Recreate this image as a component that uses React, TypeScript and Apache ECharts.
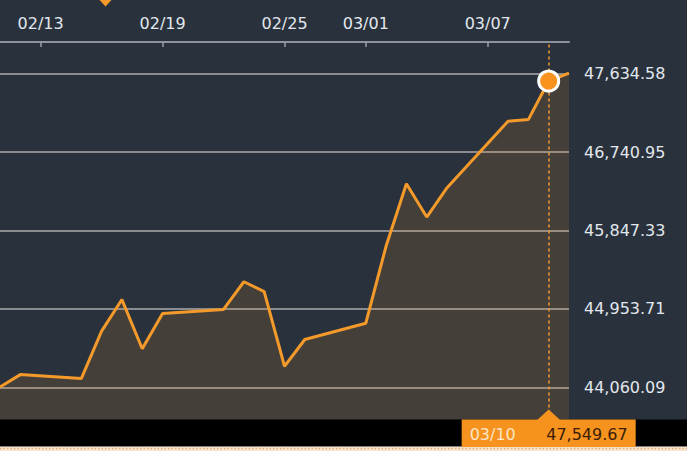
import React, { useEffect, useRef } from 'react';
import * as echarts from 'echarts';

// ---- data ----
const dates = [
  '2021-02-11', '2021-02-12', '2021-02-15', '2021-02-16', '2021-02-17', '2021-02-18', '2021-02-19',
  '2021-02-22', '2021-02-23', '2021-02-24', '2021-02-25', '2021-02-26',
  '2021-03-01', '2021-03-02', '2021-03-03', '2021-03-04', '2021-03-05',
  '2021-03-08', '2021-03-09', '2021-03-10', '2021-03-11',
];
const values = [
  44065, 44205, 44160, 44700, 45060, 44500, 44900,
  44948, 45263, 45150, 44300, 44605,
  44790, 45670, 46380, 46000, 46335,
  47092, 47110, 47549.67, 47640,
];
const xTickDates = ['2021-02-13', '2021-02-19', '2021-02-25', '2021-03-01', '2021-03-07'];
const yTickValues = [44060.09, 44953.71, 45847.33, 46740.95, 47634.58];
const highlightIndex = 19;
const xRange = ['2021-02-11', '2021-03-11'];
const yRange = [43693.5, 47994.3];

const FONT = 'DejaVu Sans';
const ORANGE = '#f39a2b';

function toTime(s: string): number {
  const [y, m, d] = s.split('-').map(Number);
  return new Date(y, m - 1, d).getTime();
}
function fmtDate(v: number): string {
  const d = new Date(v);
  const mm = String(d.getMonth() + 1).padStart(2, '0');
  const dd = String(d.getDate()).padStart(2, '0');
  return `${mm}/${dd}`;
}
function fmtNum(v: number): string {
  return Number(v).toLocaleString('en-US', { minimumFractionDigits: 2, maximumFractionDigits: 2 });
}

export default function App() {
  const ref = useRef<HTMLDivElement>(null);

  useEffect(() => {
    if (!ref.current) return;
    const chart = echarts.init(ref.current, undefined, { renderer: 'svg' });
    const xTicks = xTickDates.map(toTime);
    const seriesData = dates.map((d, i) => [toTime(d), values[i]]);
    const hiT = toTime(dates[highlightIndex]);
    const hiV = values[highlightIndex];

    chart.setOption({
      animation: false,
      backgroundColor: '#29323c',
      grid: { left: -1, right: 118, top: 42, bottom: 31.5, containLabel: false },
      xAxis: {
        type: 'value',
        position: 'top',
        min: toTime(xRange[0]),
        max: toTime(xRange[1]),
        axisLine: { show: true, lineStyle: { color: '#8c939b', width: 2 } },
        axisTick: {
          show: true, inside: true, length: 5, customValues: xTicks,
          lineStyle: { color: '#9aa0a6', width: 1.5 },
        },
        axisLabel: {
          customValues: xTicks, formatter: (v: number) => fmtDate(v),
          color: '#e2e7ee', fontSize: 16, fontFamily: FONT, margin: 11,
        },
        splitLine: { show: false },
      },
      yAxis: {
        type: 'value',
        position: 'right',
        min: yRange[0],
        max: yRange[1],
        axisLine: { show: false },
        axisTick: { show: false, customValues: yTickValues },
        axisLabel: {
          customValues: yTickValues, formatter: (v: number) => fmtNum(v),
          color: '#e2e7ee', fontSize: 16, fontFamily: FONT, margin: 15,
        },
        splitLine: { show: true, lineStyle: { color: '#ababab', width: 1.5 } },
      },
      series: [
        {
          type: 'line',
          data: seriesData,
          showSymbol: false,
          lineStyle: { color: ORANGE, width: 3 },
          areaStyle: { color: 'rgba(240,150,40,0.2)' },
          silent: true,
        },
        {
          type: 'scatter',
          data: [[hiT, hiV]],
          symbolSize: 20,
          itemStyle: { color: '#f7931e', borderColor: '#ffffff', borderWidth: 3, opacity: 1 },
          z: 5,
          silent: true,
          markLine: {
            silent: true,
            symbol: ['none', 'none'],
            label: { show: false },
            lineStyle: { color: ORANGE, width: 1.5, type: [3, 3] },
            data: [{ xAxis: hiT }],
          },
        },
      ],
    });

    const [px] = chart.convertToPixel({ gridIndex: 0 }, [hiT, hiV]) as number[];
    const boxW = 174;
    chart.setOption({
      graphic: [
        { type: 'rect', z: 100, shape: { x: 0, y: 419.5, width: 687, height: 27 }, style: { fill: '#000000' } },
        { type: 'rect', z: 100, shape: { x: 0, y: 446.5, width: 687, height: 5 }, style: { fill: '#f5e6d4' } },
        {
          type: 'line', z: 101, shape: { x1: 0, y1: 448.5, x2: 687, y2: 448.5 },
          style: { stroke: '#f2a865', lineWidth: 1.5, lineDash: [1.5, 2] },
        },
        {
          type: 'polygon', z: 102,
          shape: { points: [[px - 11.5, 420], [px, 409.5], [px + 11.5, 420]] },
          style: { fill: '#f6921e' },
        },
        {
          type: 'rect', z: 102, shape: { x: px - boxW / 2, y: 419.5, width: boxW, height: 27.5 },
          style: { fill: '#f6921e' },
        },
        {
          type: 'text', z: 103, x: px - 79, y: 434,
          style: { text: fmtDate(hiT), fill: '#fde6c6', font: `16px "${FONT}"`, verticalAlign: 'middle', align: 'left' },
        },
        {
          type: 'text', z: 103, x: px + 79, y: 434,
          style: { text: fmtNum(hiV), fill: '#3b1d06', font: `16px "${FONT}"`, verticalAlign: 'middle', align: 'right' },
        },
        {
          type: 'polygon', z: 103,
          shape: { points: [[99.5, 0], [105.5, 6.5], [111.5, 0], [105.5, -6]] },
          style: { fill: '#f39a2b' },
        },
      ],
    });

    return () => chart.dispose();
  }, []);

  return (
    <div
      ref={ref}
      style={{ position: 'fixed', left: 0, top: 0, width: 687, height: 451 }}
    />
  );
}
